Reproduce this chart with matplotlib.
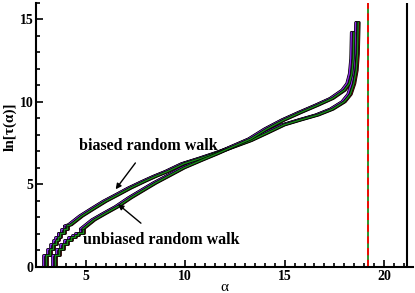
import numpy as np
import matplotlib
matplotlib.use('Agg')
import matplotlib.pyplot as plt
import matplotlib.patheffects as pe
from matplotlib.ticker import MultipleLocator

# biased random walk: low-alpha staircase (integer tau) then smooth part
biased_step_alpha = [2.90, 3.00, 3.20, 3.35, 3.50, 3.60, 3.72, 3.88, 4.05]
biased_step_tau = [1, 2, 3, 4, 5, 6, 8, 10, 12]
biased_alpha = [4.05, 4.24, 4.80, 5.42, 6.00, 6.60, 7.25, 7.93, 8.50, 9.11, 9.93, 10.8, 11.6,
                12.4, 13.3, 14.1, 14.97, 15.8, 16.67, 17.4, 18.0, 18.3, 18.48, 18.6, 18.66, 18.7]
biased_ln = [2.48, 2.55, 3.08, 3.55, 3.98, 4.36, 4.78, 5.17, 5.48, 5.78, 6.25, 6.58, 6.90,
             7.25, 7.65, 8.10, 8.60, 8.90, 9.20, 9.55, 10.0, 10.45, 11.1, 11.9, 12.9, 14.8]

# unbiased random walk
unbiased_step_alpha = [3.25, 3.45, 3.65, 3.85, 4.05, 4.25, 4.45, 4.60, 4.85]
unbiased_step_tau = [1, 2, 3, 4, 5, 6, 7, 8, 10]
unbiased_alpha = [4.85, 5.42, 6.00, 6.60, 7.25, 7.93, 8.50, 9.11, 9.93, 10.8, 11.6, 12.4,
                  13.3, 14.1, 14.97, 15.8, 16.67, 17.4, 18.0, 18.25, 18.38, 18.45, 18.48]
unbiased_ln = [2.30, 2.85, 3.25, 3.65, 4.18, 4.67, 5.08, 5.47, 6.00, 6.45, 6.85, 7.28,
               7.75, 8.35, 8.90, 9.35, 9.80, 10.2, 10.7, 11.1, 11.7, 12.6, 14.2]

# the runs (one colour each) differ by a small shift in alpha
run_colors = ['#0000ff', '#ff00ff', '#d00000', '#8a2be2', '#1a8a1a']
run_shift = [-0.10, -0.05, 0.05, -0.13, 0.0]

alpha_c = 19.17      # dashed line
alpha_max = 21.15    # solid line

plt.rcParams['font.family'] = ['Liberation Serif', 'DejaVu Serif']

fig = plt.figure(figsize=(4.15, 2.93), dpi=100)
ax = fig.add_axes([0.087, 0.089, 0.908, 0.902])

outline = [pe.Stroke(linewidth=2.0, foreground='black'), pe.Normal()]
walks = [(biased_step_alpha, biased_step_tau, biased_alpha, biased_ln),
         (unbiased_step_alpha, unbiased_step_tau, unbiased_alpha, unbiased_ln)]
for color, shift in zip(run_colors, run_shift):
    for st_a, st_t, sm_a, sm_l in walks:
        ax.plot(np.array(st_a) + shift, np.log(st_t), drawstyle='steps-post',
                color=color, lw=1.0, path_effects=outline)
        ax.plot(np.array(sm_a) + shift, sm_l, color=color, lw=1.0,
                solid_capstyle='round', path_effects=outline)

ax.axvline(alpha_c, color='#1a8a1a', lw=1.3)
ax.axvline(alpha_c, color='red', lw=1.3, dashes=(4, 2.5))
ax.axvline(alpha_max, color='black', lw=1.5)

ax.annotate('biased random walk', xy=(6.5, 4.7), xytext=(8.15, 7.35),
            ha='center', va='center', fontsize=11.5, fontweight='bold',
            arrowprops=dict(arrowstyle='-|>', color='black', lw=1.0,
                            shrinkA=6, shrinkB=0, mutation_scale=8))
ax.annotate('unbiased random walk', xy=(6.62, 3.8), xytext=(8.8, 1.62),
            ha='center', va='center', fontsize=11.5, fontweight='bold',
            arrowprops=dict(arrowstyle='-|>', color='black', lw=1.0,
                            shrinkA=7, shrinkB=0, mutation_scale=8))

ax.set_xlim(2.5, 21.45)
ax.set_ylim(0, 16)
ax.xaxis.set_major_locator(MultipleLocator(5))
ax.xaxis.set_minor_locator(MultipleLocator(0.5))
ax.yaxis.set_major_locator(MultipleLocator(5))
ax.yaxis.set_minor_locator(MultipleLocator(1))
ax.tick_params(which='both', direction='in', width=1.2)
ax.tick_params(which='major', length=5, labelsize=10, pad=2)
ax.tick_params(which='minor', length=3)
for lab in ax.get_xticklabels() + ax.get_yticklabels():
    lab.set_fontweight('bold')
ax.spines['top'].set_visible(False)
ax.spines['right'].set_visible(False)
ax.spines['left'].set_linewidth(1.5)
ax.spines['bottom'].set_linewidth(1.5)

ax.set_xlabel('α', fontsize=11)
ax.xaxis.set_label_coords(0.5, -0.055)
ax.set_ylabel('ln[τ(α)]', fontsize=11, fontweight='bold')
ax.yaxis.set_label_coords(-0.052, 0.53)

fig.savefig('out.png', dpi=100)
